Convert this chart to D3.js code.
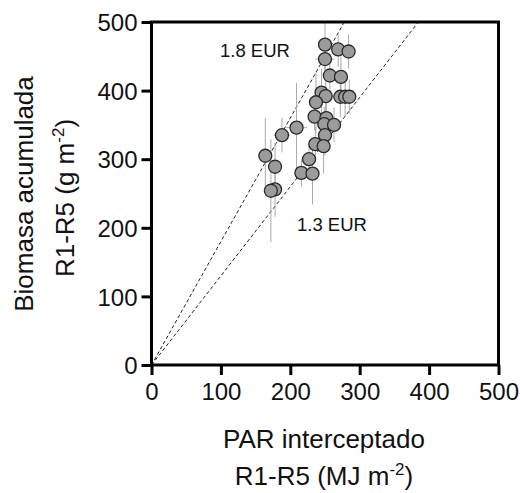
<!DOCTYPE html>
<html>
<head>
<meta charset="utf-8">
<script src="https://cdn.jsdelivr.net/npm/d3@7"></script>
<style>
  html, body { margin: 0; padding: 0; background: #fff; }
  svg { display: block; font-family: "Liberation Sans", Arial, sans-serif; }
</style>
</head>
<body>
<svg id="chart" width="520" height="493"></svg>
<script>
// PAR interceptado R1-R5 (MJ m-2) per plot
const par = [250, 269, 284, 250, 257, 273, 245, 251, 237, 272, 279, 285, 235, 252, 249, 263,
             209, 188, 250, 236, 248, 164, 227, 178, 216, 232, 178, 172];
// Biomasa acumulada R1-R5 (g m-2)
const biomasa = [467, 460, 457, 446, 422, 420, 397, 392, 383, 391, 391, 391, 362, 360, 351, 350,
                 346, 335, 335, 322, 319, 305, 300, 289, 280, 279, 256, 254];
// standard errors
const parErr = [10, 8, 8, 14, 8, 8, 8, 6, 8, 10, 6, 6, 8, 10, 6, 6,
                15, 12, 8, 6, 6, 6, 8, 6, 6, 6, 6, 6];
const biomasaErr = [40, 25, 25, 20, 30, 30, 35, 25, 45, 30, 30, 25, 20, 30, 25, 25,
                    65, 25, 30, 25, 40, 55, 20, 35, 20, 45, 40, 75];
// radiation use efficiency reference lines (g MJ-1)
const eurSlopes = [1.8, 1.3];
const eurLabels = ["1.8 EUR", "1.3 EUR"];
const axisTicks = [0, 100, 200, 300, 400, 500];

const svg = d3.select("#chart");
const mLeft = 151.5, mTop = 22, mRight = 498.5, mBottom = 365;

const x = d3.scaleLinear().domain([0, 500]).range([mLeft, mRight]);
const y = d3.scaleLinear().domain([0, 500]).range([mBottom, mTop]);

const pts = par.map((p, i) => ({ x: p, y: biomasa[i], ex: parErr[i], ey: biomasaErr[i] }));

// clip so nothing crosses the frame
svg.append("clipPath").attr("id", "plotClip")
  .append("rect").attr("x", mLeft).attr("y", mTop)
  .attr("width", mRight - mLeft).attr("height", mBottom - mTop);

const plot = svg.append("g").attr("clip-path", "url(#plotClip)");

// EUR reference lines through the origin
plot.selectAll("line.eur").data(eurSlopes).join("line")
  .attr("class", "eur")
  .attr("x1", x(0)).attr("y1", y(0))
  .attr("x2", d => x(500 / d)).attr("y2", y(500))
  .attr("stroke", "#222").attr("stroke-width", 1)
  .attr("stroke-dasharray", "3.5,2.5");

// error bars
const eb = plot.append("g").attr("stroke", "#aaaaaa").attr("stroke-width", 1);
eb.selectAll("line.v").data(pts).join("line").attr("class", "v")
  .attr("x1", d => x(d.x)).attr("x2", d => x(d.x))
  .attr("y1", d => y(d.y - d.ey)).attr("y2", d => y(d.y + d.ey));
eb.selectAll("line.h").data(pts).join("line").attr("class", "h")
  .attr("y1", d => y(d.y)).attr("y2", d => y(d.y))
  .attr("x1", d => x(d.x - d.ex)).attr("x2", d => x(d.x + d.ex));

// points
plot.selectAll("circle").data(pts).join("circle")
  .attr("cx", d => x(d.x)).attr("cy", d => y(d.y)).attr("r", 6.5)
  .attr("fill", "#9b9b9b").attr("stroke", "#2a2a2a").attr("stroke-width", 1.3);

// axes
const xAxis = svg.append("g").attr("transform", `translate(0,${mBottom})`)
  .call(d3.axisBottom(x).tickValues(axisTicks).tickSize(10).tickPadding(8));
const yAxis = svg.append("g").attr("transform", `translate(${mLeft},0)`)
  .call(d3.axisLeft(y).tickValues(axisTicks).tickSize(10).tickPadding(4));
[xAxis, yAxis].forEach(g => {
  g.select(".domain").remove();
  g.selectAll(".tick line").attr("stroke", "#000").attr("stroke-width", 3);
  g.selectAll(".tick text").attr("fill", "#111")
    .style("font-size", "24px").style("font-family", "'Liberation Sans', Arial, sans-serif");
});
xAxis.selectAll(".tick text").attr("dy", "0.71em");
yAxis.selectAll(".tick text").attr("dy", "0.36em");

// frame
svg.append("rect").attr("x", mLeft).attr("y", mTop)
  .attr("width", mRight - mLeft).attr("height", mBottom - mTop)
  .attr("fill", "none").attr("stroke", "#000").attr("stroke-width", 3);

// EUR labels
const lblPos = [[220, 57], [297, 231]];
svg.selectAll("text.eurlbl").data(eurLabels).join("text")
  .attr("class", "eurlbl")
  .attr("x", (d, i) => lblPos[i][0]).attr("y", (d, i) => lblPos[i][1])
  .style("font-size", "18.5px").attr("fill", "#111").text(d => d);

// axis titles
const xt = svg.append("g").attr("fill", "#111").style("font-size", "26px").attr("text-anchor", "middle");
xt.append("text").attr("x", 324).attr("y", 448).text("PAR interceptado");
const xt2 = xt.append("text").attr("x", 324).attr("y", 485);
xt2.append("tspan").text("R1-R5 (MJ m");
xt2.append("tspan").attr("dy", -10).style("font-size", "17px").text("-2");
xt2.append("tspan").attr("dy", 10).text(")");

const yt = svg.append("g").attr("fill", "#111").style("font-size", "26px").attr("text-anchor", "middle");
yt.append("text").attr("transform", "translate(33,194) rotate(-90)").text("Biomasa acumulada");
const yt2 = yt.append("text").attr("transform", "translate(74,198) rotate(-90)");
yt2.append("tspan").text("R1-R5 (g m");
yt2.append("tspan").attr("dy", -10).style("font-size", "17px").text("-2");
yt2.append("tspan").attr("dy", 10).text(")");
</script>
</body>
</html>
